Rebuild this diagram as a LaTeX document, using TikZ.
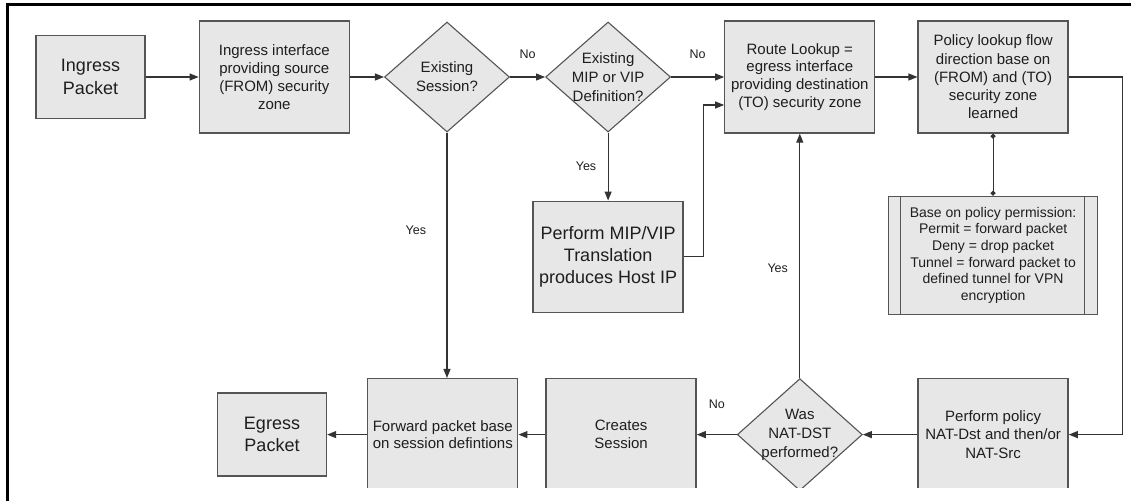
\documentclass[tikz,border=0pt]{standalone}
\usepackage{fontspec}
\setmainfont{Liberation Sans}
\usetikzlibrary{shapes.geometric,arrows.meta,positioning}
\definecolor{boxgray}{RGB}{231,231,231}
\definecolor{edgegray}{RGB}{85,85,85}
\definecolor{inkgray}{RGB}{30,30,30}

\begin{document}
\begin{tikzpicture}[
    x=1pt, y=-1pt,
    box/.style={rectangle, draw=edgegray, line width=1.3pt, fill=boxgray, minimum width=150pt, minimum height=112pt, inner sep=0pt, align=center, text=inkgray, font=\fontsize{15}{17.9}\selectfont},
    bigbox/.style={box, font=\fontsize{18}{22.3}\selectfont},
    endbox/.style={bigbox, minimum width=109pt, minimum height=83pt},
    procbox/.style={box, minimum width=209pt, minimum height=118pt, font=\fontsize{14}{16.7}\selectfont,
        path picture={
            \draw[edgegray, line width=1.3pt] ([xshift=12pt]path picture bounding box.north west) -- ([xshift=12pt]path picture bounding box.south west);
            \draw[edgegray, line width=1.3pt] ([xshift=-13pt]path picture bounding box.north east) -- ([xshift=-13pt]path picture bounding box.south east);
        }},
    decision/.style={diamond, draw=edgegray, line width=1.1pt, fill=boxgray, inner sep=0pt, minimum width=125pt, minimum height=110pt},
    dtext/.style={align=center, text=inkgray, font=\fontsize{15}{19}\selectfont},
    flow/.style={draw=black!80, line width=1.1pt, -{Triangle[length=9pt,width=7pt]}},
    lbl/.style={font=\fontsize{12.5}{14}\selectfont, text=inkgray}
]
    \useasboundingbox (0,0) rectangle (1131,501);

    \begin{scope}
    \clip (0,0) rectangle (1131,487);

    % top row
    \node[endbox] (ingpkt) at (90.5,77) {Ingress\\Packet};
    \node[box, right=53pt of ingpkt] (ingif) {Ingress interface\\providing source\\(FROM) security\\zone};
    \node[decision, right=34pt of ingif, label={[dtext]center:Existing\\Session?}] (sess) {};
    \node[decision, right=35pt of sess, label={[dtext]center:Existing\\MIP or VIP\\Definition?}] (vipdef) {};
    \node[box, right=53pt of vipdef] (route) {Route Lookup =\\egress interface\\providing destination\\(TO) security zone};
    \node[box, right=42pt of route, font=\fontsize{15}{18.2}\selectfont] (policy) {Policy lookup flow\\direction base on\\(FROM) and (TO)\\security zone\\learned};

    % middle
    \node[bigbox, minimum height=111pt, below=68pt of vipdef] (xlate) {Perform MIP/VIP\\Translation\\produces Host IP};
    \node[procbox, below=62pt of policy] (perm) {Base on policy permission:\\Permit = forward packet\\Deny = drop packet\\Tunnel = forward packet to\\defined tunnel for VPN\\encryption};

    % bottom row
    \node[box, below=63pt of perm, font=\fontsize{15}{18.5}\selectfont] (natbox) {Perform policy\\NAT-Dst and then/or\\NAT-Src};
    \node[decision, minimum height=112pt, label={[dtext]center:Was\\NAT-DST\\performed?}] (natq) at (route |- natbox) {};
    \node[box, left=40pt of natq] (sessbox) {Creates\\Session};
    \node[box, left=27pt of sessbox] (fwd) {Forward packet base\\on session defintions};
    \node[endbox, left=40pt of fwd] (egress) {Egress\\Packet};

    % connectors
    \draw[flow] (ingpkt) -- (ingif);
    \draw[flow] (ingif) -- (sess);
    \draw[flow] (sess) -- node[lbl, midway, above=14pt] {No} (vipdef);
    \draw[flow] (vipdef) -- node[lbl, midway, above=14pt] {No} (route);
    \draw[flow] (route) -- (policy);
    \draw[flow] (vipdef) -- node[lbl, midway, left=8pt] {Yes} (vipdef |- xlate.north);
    \draw[flow] (xlate.east) -- ++(20,0) |- ([yshift=-28pt]route.west);
    \draw[draw=black!80, line width=1.1pt, {Circle[length=5pt]}-{Circle[length=5pt]}] (policy) -- (perm);
    \draw[flow] (policy.east) -- ++(54,0) |- (natbox.east);
    \draw[flow] (natbox) -- (natq);
    \draw[flow] (natq) -- node[lbl, midway, above=22pt] {No} (sessbox);
    \draw[flow] (natq) -- node[lbl, pos=0.45, left=8pt] {Yes} (route);
    \draw[flow] (sessbox) -- (fwd);
    \draw[flow] (sess) -- node[lbl, pos=0.4, left=17pt] {Yes} (sess |- fwd.north);
    \draw[flow] (fwd) -- (egress);
    \end{scope}

    % frame
    \draw[line width=3pt] (7.5,501) |- (1131,4.5);
\end{tikzpicture}
\end{document}
